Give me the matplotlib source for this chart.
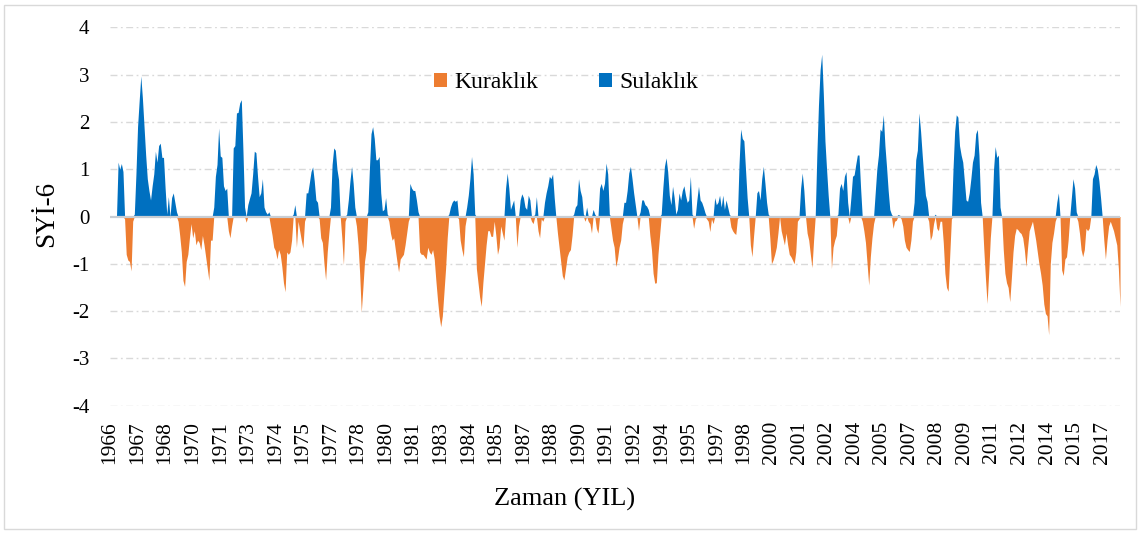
import numpy as np
import matplotlib
matplotlib.use("Agg")
import matplotlib.pyplot as plt
from matplotlib.patches import Patch, Rectangle

# ── Data: monthly SYİ-6 values, Jan 1966 – Dec 2017 (first 5 months undefined) ──
nan = np.nan
spi6_1966_1975 = [
    nan, nan, nan, nan, nan, 1.15, 1.0, 1.12, 0.95, -0.05, -0.8, -0.92,
    -0.95, -1.15, -0.1, 0.05, 0.9, 1.9, 2.45, 2.97, 2.5, 1.9, 1.3, 0.8,
    0.55, 0.35, 0.65, 0.9, 1.38, 1.15, 1.5, 1.55, 1.25, 1.25, 0.6, 0.05,
    0.42, -0.03, 0.4, 0.5, 0.3, 0.1, -0.1, -0.4, -0.75, -1.35, -1.48, -0.95,
    -0.8, -0.45, -0.15, -0.45, -0.3, -0.6, -0.5, -0.55, -0.7, -0.4, -0.6, -0.85,
    -1.1, -1.35, -0.5, -0.5, 0.2, 0.85, 1.1, 1.87, 1.28, 1.25, 0.65, 0.55,
    0.6, -0.3, -0.45, -0.2, 1.45, 1.5, 2.19, 2.2, 2.4, 2.47, 1.4, 0.2,
    -0.12, 0.25, 0.38, 0.5, 0.9, 1.38, 1.35, 0.85, 0.42, 0.5, 0.8, 0.2,
    0.1, 0.05, 0.1, -0.2, -0.4, -0.65, -0.72, -0.9, -0.7, -0.8, -1.06, -1.4,
    -1.59, -0.75, -0.8, -0.75, -0.5, 0.05, 0.25, -0.65, -0.1, -0.3, -0.5, -0.67,
]
spi6_1976_1985 = [
    -0.1, 0.5, 0.5, 0.72, 0.95, 1.05, 0.75, 0.35, 0.3, -0.05, -0.45, -0.55,
    -1.0, -1.34, -0.75, -0.35, 0.2, 1.1, 1.45, 1.4, 1.0, 0.78, 0.0, -0.45,
    -1.02, -0.1, 0.05, 0.35, 0.75, 1.06, 0.7, 0.2, -0.2, -0.6, -1.2, -2.02,
    -1.5, -0.95, -0.7, 0.1, 1.0, 1.75, 1.9, 1.65, 1.2, 1.2, 1.27, 0.5,
    0.12, 0.15, 0.4, 0.05, -0.1, -0.35, -0.5, -0.45, -0.7, -0.95, -1.17, -0.9,
    -0.85, -0.8, -0.6, -0.35, -0.1, 0.7, 0.6, 0.55, 0.55, 0.35, 0.1, -0.75,
    -0.8, -0.8, -0.85, -0.9, -0.65, -0.75, -0.8, -0.7, -0.9, -1.35, -1.75, -2.1,
    -2.33, -2.1, -1.6, -1.1, -0.45, 0.05, 0.2, 0.3, 0.35, 0.32, 0.35, -0.05,
    -0.5, -0.7, -0.85, -0.2, 0.2, 0.45, 0.8, 1.27, 0.9, 0.05, -1.1, -1.4,
    -1.7, -1.9, -1.4, -1.0, -0.6, -0.3, -0.3, -0.42, -0.42, -0.1, -0.4, -0.8,
]
spi6_1986_1995 = [
    -0.65, -0.2, -0.35, -0.5, 0.6, 0.92, 0.6, 0.15, 0.25, 0.35, 0.0, -0.65,
    -0.2, 0.35, 0.48, 0.4, 0.2, 0.15, 0.45, 0.35, -0.1, -0.15, 0.05, 0.42,
    -0.3, -0.45, -0.05, -0.1, 0.3, 0.5, 0.65, 0.85, 0.8, 0.9, 0.4, 0.0,
    -0.35, -0.65, -0.95, -1.25, -1.34, -1.1, -0.85, -0.75, -0.7, -0.4, 0.05, 0.2,
    0.25, 0.8, 0.55, 0.42, 0.05, -0.1, 0.2, -0.1, -0.15, -0.35, 0.15, 0.05,
    -0.25, -0.35, 0.6, 0.7, 0.55, 0.7, 1.13, 0.9, 0.05, -0.25, -0.5, -0.65,
    -1.06, -0.9, -0.65, -0.5, -0.15, 0.3, 0.3, 0.55, 0.92, 1.06, 0.8, 0.5,
    0.25, 0.0, -0.3, 0.1, 0.35, 0.35, 0.25, 0.22, 0.15, -0.4, -0.7, -1.2,
    -1.41, -1.4, -0.8, -0.4, 0.05, 0.6, 1.06, 1.24, 0.95, 0.45, 0.25, 0.64,
    0.4, 0.05, 0.15, 0.5, 0.35, 0.55, 0.65, 0.45, 0.3, 0.35, 0.85, 0.05,
]
spi6_1996_2005 = [
    -0.25, -0.05, 0.35, 0.64, 0.35, 0.3, 0.2, 0.08, -0.05, -0.1, -0.32, -0.05,
    -0.15, 0.4, 0.25, 0.3, 0.45, 0.2, 0.45, 0.15, 0.35, 0.2, 0.05, -0.22,
    -0.3, -0.35, -0.38, -0.05, 1.1, 1.85, 1.65, 1.6, 1.0, 0.4, 0.0, -0.6,
    -0.85, -0.4, 0.0, 0.5, 0.55, 0.35, 0.8, 1.06, 0.7, 0.3, 0.05, -0.45,
    -1.0, -0.92, -0.8, -0.65, -0.35, 0.0, -0.3, -0.45, -0.6, -0.35, -0.6, -0.8,
    -0.85, -0.92, -1.0, -0.75, -0.1, -0.05, 0.6, 0.92, 0.55, 0.0, -0.35, -0.5,
    -0.8, -1.08, -0.5, 0.0, 1.3, 2.35, 3.1, 3.43, 2.6, 1.6, 1.0, 0.45,
    0.0, -1.1, -0.65, -0.5, -0.4, 0.05, 0.6, 0.7, 0.55, 0.85, 0.95, 0.3,
    -0.15, 0.4, 0.85, 0.88, 1.1, 1.3, 1.3, 0.6, -0.1, -0.3, -0.55, -1.0,
    -1.45, -0.85, -0.45, -0.15, 0.5, 1.0, 1.3, 1.85, 1.8, 2.15, 1.5, 1.05,
]
spi6_2006_2017 = [
    0.55, 0.15, 0.05, -0.25, -0.1, -0.08, 0.04, 0.03, -0.05, -0.2, -0.5, -0.65,
    -0.7, -0.74, -0.5, -0.1, 0.3, 1.2, 1.4, 2.19, 1.8, 1.3, 0.85, 0.45,
    0.32, -0.1, -0.5, -0.4, -0.15, 0.05, -0.25, -0.3, -0.1, -0.1, -0.55, -1.2,
    -1.5, -1.58, -0.8, -0.05, 1.0, 1.8, 2.15, 2.1, 1.5, 1.3, 1.15, 0.75,
    0.35, 0.32, 0.5, 0.8, 1.15, 1.3, 1.75, 1.84, 1.3, 0.3, 0.0, -0.7,
    -1.3, -1.84, -1.2, -0.45, 0.0, 1.0, 1.48, 1.25, 1.3, 0.2, 0.0, -0.7,
    -1.2, -1.4, -1.5, -1.8, -1.3, -0.75, -0.4, -0.25, -0.28, -0.33, -0.36, -0.45,
    -0.7, -1.06, -0.65, -0.3, -0.2, -0.1, -0.3, -0.5, -0.75, -1.0, -1.2, -1.45,
    -1.85, -2.05, -2.1, -2.5, -1.0, -0.55, -0.35, -0.1, 0.3, 0.5, 0.0, -1.13,
    -1.25, -0.9, -0.85, -0.5, 0.0, 0.4, 0.8, 0.6, 0.1, -0.1, -0.35, -0.7,
    -0.85, -0.7, -0.25, -0.3, -0.25, 0.0, 0.8, 0.9, 1.1, 1.0, 0.75, 0.4,
    0.0, -0.5, -0.9, -0.5, -0.2, -0.1, -0.2, -0.3, -0.45, -0.6, -1.1, -1.9,
]

# category labels shown on the axis (Excel shows every 17th month)
TICK_STEP = 17
tick_years = ["1966", "1967", "1968", "1970", "1971", "1973", "1974", "1975",
              "1977", "1978", "1980", "1981", "1983", "1984", "1985", "1987",
              "1988", "1990", "1991", "1992", "1994", "1995", "1997", "1998",
              "2000", "2001", "2002", "2004", "2005", "2007", "2008", "2009",
              "2011", "2012", "2014", "2015", "2017"]

series_names = ["Kuraklık", "Sulaklık"]

# ── Style ─────────────────────────────────────────────────────────────────────
ORANGE = "#ED7D31"
BLUE = "#0070C0"
GRID = "#D9D9D9"
plt.rcParams["font.family"] = ["Liberation Serif", "DejaVu Serif"]
plt.rcParams["axes.unicode_minus"] = False

spi6 = np.array(spi6_1966_1975 + spi6_1976_1985 + spi6_1986_1995
                + spi6_1996_2005 + spi6_2006_2017, dtype=float)
x = np.arange(len(spi6))
vals = np.nan_to_num(spi6, nan=0.0)   # Excel plots empty cells as zero

W, H = 1140, 535
fig = plt.figure(figsize=(W / 100, H / 100), dpi=100)
ax = fig.add_axes([110 / W, 1 - 405.7 / H, 1010 / W, (405.7 - 27.3) / H])

# gridlines (dash-dot) except at zero, where the axis line sits
for yv in range(-4, 5):
    if yv != 0:
        ax.axhline(yv, color=GRID, lw=1.0, ls=(0, (5, 2.5, 1.3, 2.5)), zorder=0)

ax.fill_between(x, 0, np.minimum(vals, 0), color=ORANGE, lw=0, zorder=1)
ax.fill_between(x, 0, np.maximum(vals, 0), color=BLUE, lw=0, zorder=2)
ax.axhline(0, color="#C8CDD3", lw=1.6, zorder=3)

ax.set_xlim(0, len(spi6) - 1)
ax.set_ylim(-4, 4)
ax.set_yticks(range(-4, 5))
ax.set_xticks(x[::TICK_STEP])
ax.set_xticklabels(tick_years, rotation=90)
ax.tick_params(axis="y", length=0, pad=15, labelsize=15)
ax.tick_params(axis="x", length=0, pad=11, labelsize=15.5)
for s in ax.spines.values():
    s.set_visible(False)

fig.text(47 / W, 1 - 214 / H, "SYİ-6", rotation=90, ha="center", va="center",
         fontsize=19.5)
fig.text(565 / W, 1 - 499 / H, "Zaman (YIL)", ha="center", va="center",
         fontsize=19)

handles = [Patch(facecolor=ORANGE, edgecolor="none"),
           Patch(facecolor=BLUE, edgecolor="none")]
fig.legend(handles, series_names, loc="center",
           bbox_to_anchor=(566 / W, 1 - 83 / H), ncol=2, frameon=False,
           fontsize=17, handlelength=0.55, handleheight=0.55,
           handletextpad=0.3, columnspacing=2.6)

# light chart border
fig.patches.append(Rectangle((4 / W, 6 / H), 1 - 8 / W, 1 - 11 / H,
                             transform=fig.transFigure, fill=False,
                             edgecolor=GRID, lw=1.0))

fig.savefig("out.png", dpi=100)
